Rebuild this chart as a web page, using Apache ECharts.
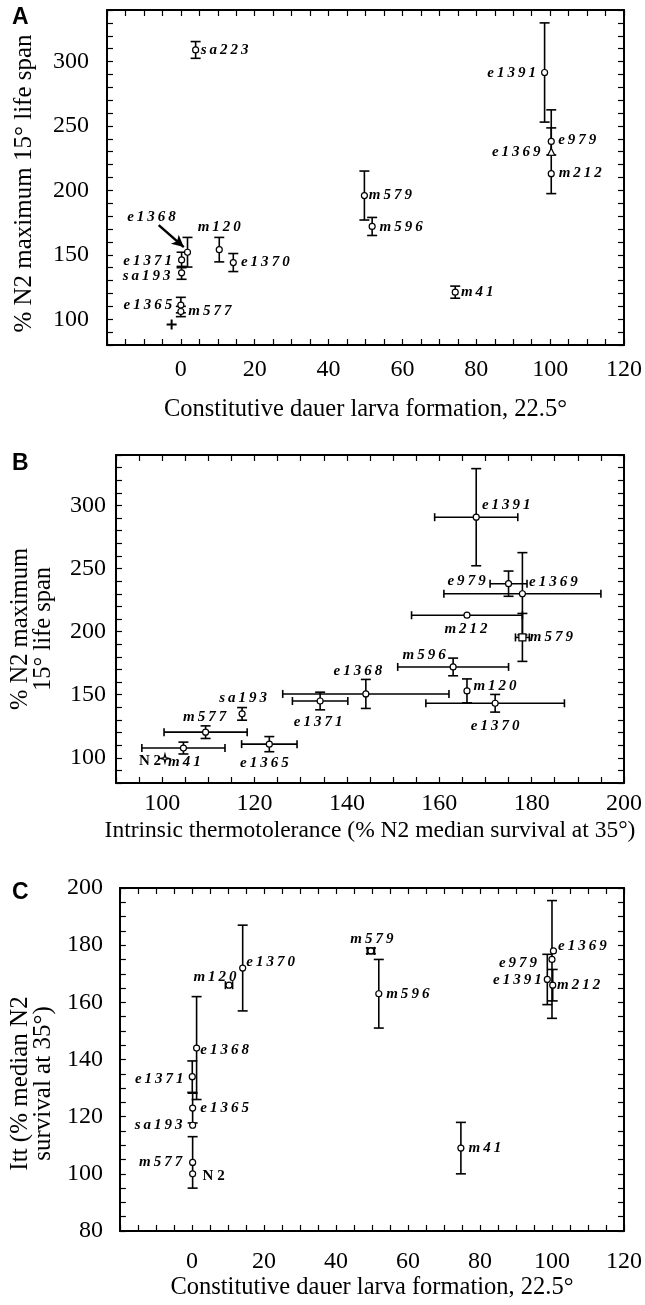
<!DOCTYPE html>
<html>
<head>
<meta charset="utf-8">
<script src="https://cdn.jsdelivr.net/npm/echarts@6/dist/echarts.min.js"></script>
<style>
  html, body { margin: 0; background: #fff; }
  #chart { width: 645px; height: 1305px; }
</style>
</head>
<body>
<div id="chart"></div>
<script>
// A: constitutive dauer formation (%) vs % N2 maximum life span
const strainsA = ['sa223', 'e1368', 'm120', 'e1371', 'sa193', 'e1370', 'e1365', 'm577', 'N2',
  'e1391', 'e979', 'e1369', 'm212', 'm579', 'm596', 'm41']
const dauerA = [4, 1.8, 10.4, 0.2, 0.2, 14.2, 0, 0, -2.5, 98.5, 100.3, 100.3, 100.3, 49.7, 51.8, 74.3]
const lifespanA = [309, 152, 154, 146, 136, 144, 111, 106, 96, 291.5, 238, 230, 213, 196, 172, 121]
const lifespanErrA = [6.5, 11.5, 9.5, 6, 5, 7, 6, 4, 0, 38.5, 10.5, 32.5, 0, 19, 7, 4.7]
const arrowA = [[-6, 173], [0.8, 156]]

// B: intrinsic thermotolerance vs % N2 maximum life span
const strainsB = ['N2', 'm41', 'm577', 'sa193', 'e1365', 'e1371', 'e1368', 'm596', 'm120',
  'e1370', 'm212', 'm579', 'e979', 'e1369', 'e1391']
const ittB = [100.6, 104.6, 109.4, 117.3, 123.2, 134.2, 144.1, 163, 166, 172.1, 166, 178, 175, 178, 168]
const ittErrB = [0, 9, 9, 0, 6, 6, 18, 12, 0, 15, 12, 1.5, 4, 17, 9]
const lifespanB = [99.5, 107.7, 120.3, 134.8, 110.8, 145, 150.6, 172, 153, 143.2, 213, 195.4, 238, 230, 290.7]
const lifespanErrB = [0, 4.7, 5, 5, 6, 7, 11.5, 7, 9.5, 7, 0, 19, 10, 32.6, 38.5]

// C: constitutive dauer formation vs Itt
const strainsC = ['N2', 'm577', 'sa193', 'e1365', 'e1371', 'e1368', 'm120', 'e1370', 'm579',
  'm596', 'm41', 'e1369', 'e979', 'e1391', 'm212']
const dauerC = [0.2, 0.2, 0.2, 0.2, 0.1, 1.3, 10.3, 14.1, 49.7, 51.9, 74.7, 100.4, 100, 98.7, 100.2]
const dauerErrC = [0, 0, 0, 0, 0, 0, 1, 0, 1, 0, 0, 0, 0, 0, 0]
const ittC = [100, 104, 117, 123, 134, 144, 166, 172, 178, 163, 109, 178, 175, 168, 166]
const ittErrC = [0, 9, 0, 5.2, 5.5, 18, 0, 15, 1, 12, 9, 0, 20.6, 8.8, 5.5]

// label centre offsets from the point, px
const labelOffA = {
  sa223: [29, 0], e1368: [-36, -35], m120: [0, -23], e1371: [-34, 1], sa193: [-35, 3],
  e1370: [32, 0], e1365: [-33, 0], m577: [29, 0], e1391: [-33, 1], e979: [26, -1],
  e1369: [-35, 0], m212: [29, -1], m579: [26, 0], m596: [29, 1], m41: [22, 0],
}
const labelOffB = {
  N2: [-15, 3], m41: [1, 14], m577: [-1, -15], sa193: [1, -16], e1365: [-5, 19],
  e1371: [-2, 21], e1368: [-8, -23], m596: [-29, -12], m120: [28, -5], e1370: [0, 23],
  m212: [-1, 14], m579: [29, 0], e979: [-42, -3], e1369: [31, -12], e1391: [30, -12],
}
const labelOffC = {
  N2: [21, 2], m577: [-32, 0], sa193: [-34, 0], e1365: [32, 0], e1371: [-33, 2],
  e1368: [28, 2], m120: [-14, -8], e1370: [28, -6], m579: [1, -12], m596: [29, 0],
  m41: [24, 0], e1369: [29, -5], e979: [-34, 4], e1391: [-30, 1], m212: [26, 0],
}

const plusPath = 'path://M4,0H6V4H10V6H6V10H4V6H0V4H4Z'
const starPath = 'path://M5,0L6,4L10,5L6,6L5,10L4,6L0,5L4,4Z'
const symA = { e1369: 'triangle', N2: plusPath }
const symB = { m579: 'rect', N2: starPath }
const symC = {}

const serif = "'Liberation Serif', 'DejaVu Serif', serif"
const black = '#000'

function spaced(s) {
  if (s === 'N2') return 'N 2'
  return s.split('').join('\u2009')
}

function renderErr(params, api) {
  const x = api.value(0), y = api.value(1), xe = api.value(2), ye = api.value(3)
  const c = api.coord([x, y])
  const st = { stroke: black, lineWidth: 1.6 }
  const ln = (x1, y1, x2, y2) => ({ type: 'line', shape: { x1, y1, x2, y2 }, style: st })
  const kids = []
  if (ye > 0) {
    const t = api.coord([x, y + ye])[1], b = api.coord([x, y - ye])[1]
    kids.push(ln(c[0], t, c[0], b), ln(c[0] - 5, t, c[0] + 5, t), ln(c[0] - 5, b, c[0] + 5, b))
  }
  if (xe > 0) {
    const l = api.coord([x - xe, y])[0], r = api.coord([x + xe, y])[0]
    kids.push(ln(l, c[1], r, c[1]), ln(l, c[1] - 4, l, c[1] + 4), ln(r, c[1] - 4, r, c[1] + 4))
  }
  return { type: 'group', children: kids }
}

function panelSeries(idx, names, xs, ys, xErr, yErr, offs, syms, noLabel) {
  const errData = names.map((n, i) => [xs[i], ys[i], xErr ? xErr[i] : 0, yErr ? yErr[i] : 0])
  const pts = names.map((n, i) => {
    const sym = syms[n] || 'circle'
    const item = { name: n, value: [xs[i], ys[i]], symbol: sym }
    if (sym === plusPath) item.itemStyle = { color: black, borderWidth: 0 }
    if (sym === plusPath) item.symbolSize = 10
    if (sym === starPath) item.symbolSize = 9
    if (sym === 'triangle' || sym === 'rect') item.symbolSize = 7
    const lab = { offset: offs[n] || [0, 0] }
    if (noLabel.includes(n)) lab.show = false
    if (n === 'N2') lab.fontStyle = 'normal'
    item.label = lab
    return item
  })
  return [
    {
      type: 'custom', xAxisIndex: idx, yAxisIndex: idx, renderItem: renderErr,
      data: errData, encode: { x: 0, y: 1 }, z: 2, silent: true,
    },
    {
      type: 'scatter', xAxisIndex: idx, yAxisIndex: idx, data: pts, z: 3,
      symbolSize: 6,
      itemStyle: { color: '#fff', borderColor: black, borderWidth: 1.2, opacity: 1 },
      label: {
        show: true, position: 'inside', color: black, fontFamily: serif,
        fontStyle: 'italic', fontWeight: 'bold', fontSize: 15,
        formatter: p => spaced(p.name),
      },
    },
  ]
}

const axLine = { show: true, onZero: false, lineStyle: { color: black, width: 2 } }
const axTick = { show: true, inside: true, length: 6, lineStyle: { color: black, width: 1.2 } }

function valAxis(grid, min, max, step, fmt, extra) {
  return Object.assign({
    type: 'value', gridIndex: grid, min, max, interval: step,
    axisLine: axLine, axisTick: axTick, splitLine: { show: false },
    axisLabel: { formatter: fmt, color: black, fontFamily: serif, fontSize: 24 },
    nameTextStyle: { color: black, fontFamily: serif, fontSize: 24.5 },
  }, extra)
}

const dauerFmt = v => (v >= 0 && v % 20 === 0 ? String(v) : '')
const lifeFmt = v => (v >= 100 && v <= 300 && v % 50 === 0 ? String(v) : '')
const ittXFmt = v => (v >= 100 && v % 20 === 0 ? String(v) : '')
const ittYFmt = v => (v % 20 === 0 ? String(v) : '')
const hide = { axisLabel: { show: false } }
const tickLabel = (fmt, margin) => ({ formatter: fmt, color: black, fontFamily: serif, fontSize: 24, margin })

const xAxes = [
  valAxis(0, -20, 120, 5, dauerFmt, {
    name: 'Constitutive dauer larva formation, 22.5°', nameLocation: 'middle', nameGap: 52,
    axisLabel: tickLabel(dauerFmt, 13),
  }),
  valAxis(1, 90, 200, 5, ittXFmt, {
    name: 'Intrinsic thermotolerance (% N2 median survival at 35°)', nameLocation: 'middle', nameGap: 36,
    nameTextStyle: { color: black, fontFamily: serif, fontSize: 23.5 },
    axisLabel: tickLabel(ittXFmt, 9),
  }),
  valAxis(2, -20, 120, 5, dauerFmt, {
    name: 'Constitutive dauer larva formation, 22.5°', nameLocation: 'middle', nameGap: 42,
    axisLabel: tickLabel(dauerFmt, 19),
  }),
  valAxis(0, -20, 120, 5, null, Object.assign({ position: 'top' }, hide)),
  valAxis(1, 90, 200, 5, null, Object.assign({ position: 'top' }, hide)),
  valAxis(2, -20, 120, 5, null, Object.assign({ position: 'top' }, hide)),
]

const yAxes = [
  valAxis(0, 80, 340, 10, lifeFmt, {
    name: '% N2 maximum 15° life span', nameLocation: 'middle', nameGap: 70,
    nameTextStyle: { color: black, fontFamily: serif, fontSize: 25, padding: [0, 12, 0, 0] },
    axisLabel: tickLabel(lifeFmt, 18),
  }),
  valAxis(1, 80, 340, 10, lifeFmt, {
    name: '% N2 maximum\n15° life span', nameLocation: 'middle', nameGap: 61,
    nameTextStyle: { color: black, fontFamily: serif, fontSize: 24.5, lineHeight: 23, padding: [0, 20, 0, 0] },
    axisLabel: tickLabel(lifeFmt, 10),
  }),
  valAxis(2, 80, 200, 5, ittYFmt, {
    name: 'Itt (% median N2\nsurvival at 35°)', nameLocation: 'middle', nameGap: 62,
    nameTextStyle: { color: black, fontFamily: serif, fontSize: 25, lineHeight: 23, padding: [0, 48, 0, 0] },
    axisLabel: tickLabel(ittYFmt, 17),
  }),
  valAxis(0, 80, 340, 10, null, Object.assign({ position: 'right' }, hide)),
  valAxis(1, 80, 340, 10, null, Object.assign({ position: 'right' }, hide)),
  valAxis(2, 80, 200, 5, null, Object.assign({ position: 'right' }, hide)),
]

const seriesA = panelSeries(0, strainsA, dauerA, lifespanA, null, lifespanErrA, labelOffA, symA, ['N2'])
seriesA[1].markLine = {
  silent: true, symbol: ['none', 'arrow'], symbolSize: [9, 12],
  lineStyle: { color: black, width: 2.5, type: 'solid' }, label: { show: false },
  data: [[{ coord: arrowA[0] }, { coord: arrowA[1] }]],
}
const seriesB = panelSeries(1, strainsB, ittB, lifespanB, ittErrB, lifespanErrB, labelOffB, symB, [])
const seriesC = panelSeries(2, strainsC, dauerC, ittC, dauerErrC, ittErrC, labelOffC, symC, [])

const panelTitle = (t, top) => ({
  text: t, left: 7, top,
  textStyle: { fontFamily: "'Liberation Sans', Arial, sans-serif", fontWeight: 'bold', fontSize: 23, color: black },
})

const chart = echarts.init(document.getElementById('chart'))
chart.setOption({
  animation: false,
  backgroundColor: '#fff',
  title: [panelTitle('A', 1), panelTitle('B', 447), panelTitle('C', 876)],
  grid: [
    { left: 107, top: 10, width: 518, height: 335 },
    { left: 113, top: 455, width: 512, height: 328 },
    { left: 115, top: 888, width: 512, height: 343 },
  ],
  xAxis: xAxes,
  yAxis: yAxes,
  series: [...seriesA, ...seriesB, ...seriesC],
})
</script>
</body>
</html>
